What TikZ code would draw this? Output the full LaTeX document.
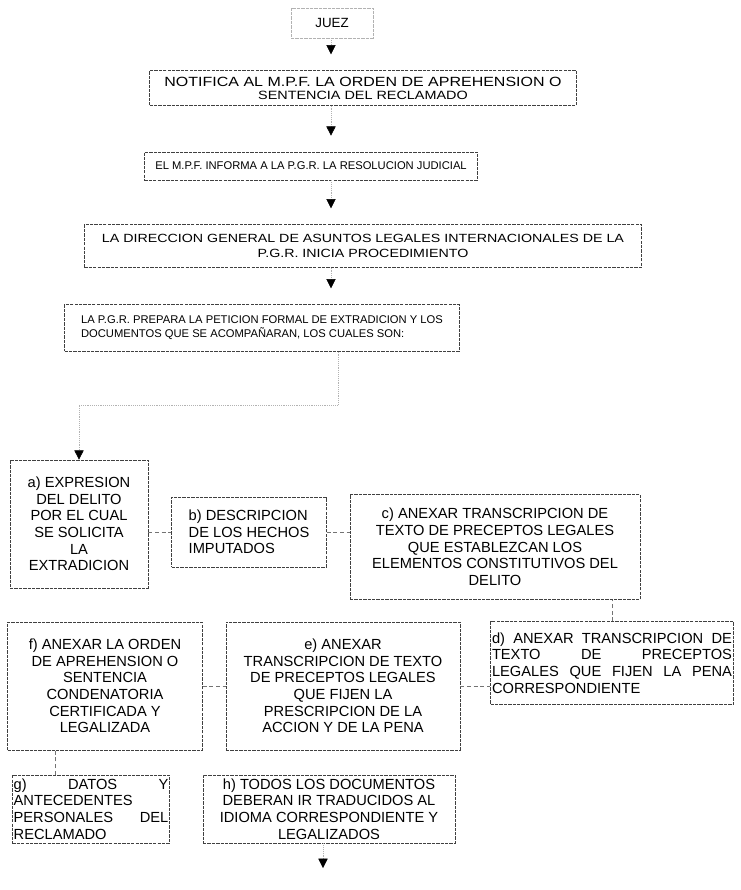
\documentclass[tikz,border=0pt]{standalone}
\usepackage{fontspec}
\setmainfont{Liberation Sans}
\newfontfamily\widesans[FakeStretch=1.2]{Liberation Sans}
\usetikzlibrary{arrows.meta}

\begin{document}
\begin{tikzpicture}[x=0.75pt, y=-0.75pt,
	box/.style={draw=black!75, line width=.5pt, dash pattern=on 2.5pt off .8pt, inner sep=1pt},
	low/.style={box, align=center, font=\fontsize{11}{12.5}\selectfont},
	flow/.style={draw=black!30, densely dotted, line width=.4pt, shorten >=12pt, -{Triangle[width=7pt,length=7pt,color=black]}},
	link/.style={draw=black!55, densely dashed, line width=.4pt}
	]
	\fill[white] (0,0) rectangle (741,890);
	\useasboundingbox (0,0) rectangle (741,890);
	
	\node [box, draw=black!30, minimum width=61.5pt, minimum height=22.5pt, font=\fontsize{10}{12}\selectfont] (juez) at (332,23) {JUEZ};
	\node [box, minimum width=320pt, minimum height=26pt, align=center, font=\widesans\fontsize{10}{9.75}\selectfont] (p1) at (363,88)
		{NOTIFICA AL M.P.F. LA ORDEN DE APREHENSION O\\{\fontsize{9}{9.75}\selectfont SENTENCIA DEL RECLAMADO}};
	\node [box, minimum width=250pt, minimum height=21pt, font=\fontsize{8.4}{10}\selectfont] (p2) at (311,166)
		{EL M.P.F. INFORMA A LA P.G.R. LA RESOLUCION JUDICIAL};
	\node [box, minimum width=418pt, minimum height=32pt, align=center, font=\widesans\fontsize{8.9}{11}\selectfont] (p3) at (363,246)
		{LA DIRECCION GENERAL DE ASUNTOS LEGALES INTERNACIONALES DE LA\\P.G.R. INICIA PROCEDIMIENTO};
	\node [box, minimum width=296pt, minimum height=35pt, align=left, font=\fontsize{8.4}{10.5}\selectfont] (p4) at (262,328)
		{LA P.G.R. PREPARA LA PETICION FORMAL DE EXTRADICION Y LOS\\DOCUMENTOS QUE SE ACOMPA\~NARAN, LOS CUALES SON:};
	
	\node [low, minimum width=103.5pt, minimum height=96pt] (a) at (79,524)
		{a) EXPRESION\\DEL DELITO\\POR EL CUAL\\SE SOLICITA\\LA\\EXTRADICION};
	\node [low, align=left, minimum width=116pt, minimum height=52.5pt] (b) at (249,532)
		{b) DESCRIPCION\\DE LOS HECHOS\\IMPUTADOS};
	\node [low, minimum width=217.5pt, minimum height=79pt] (c) at (495,547)
		{c) ANEXAR TRANSCRIPCION DE\\TEXTO DE PRECEPTOS LEGALES\\QUE ESTABLEZCAN LOS\\ELEMENTOS CONSTITUTIVOS DEL\\DELITO};
	\node [low, align=justify, text width=180pt, minimum height=62pt] (d) at (612,663)
		{d) ANEXAR TRANSCRIPCION DE\linebreak TEXTO DE PRECEPTOS\linebreak LEGALES QUE FIJEN LA PENA\linebreak CORRESPONDIENTE};
	\node [low, minimum width=175.5pt, minimum height=96pt] (e) at (343,686)
		{e) ANEXAR\\TRANSCRIPCION DE TEXTO\\DE PRECEPTOS LEGALES\\QUE FIJEN LA\\PRESCRIPCION DE LA\\ACCION Y DE LA PENA};
	\node [low, minimum width=146pt, minimum height=96pt] (f) at (105,686)
		{f) ANEXAR LA ORDEN\\DE APREHENSION O\\SENTENCIA\\CONDENATORIA\\CERTIFICADA Y\\LEGALIZADA};
	\node [low, align=justify, text width=116pt, minimum height=51pt] (g) at (91,809)
		{g) DATOS Y\linebreak ANTECEDENTES\linebreak PERSONALES DEL\linebreak RECLAMADO};
	\node [low, minimum width=189pt, minimum height=51pt] (h) at (329,809)
		{h) TODOS LOS DOCUMENTOS\\DEBERAN IR TRADUCIDOS AL\\IDIOMA CORRESPONDIENTE Y\\LEGALIZADOS};
	
	\coordinate (axis) at (331,0);
	\coordinate (split) at (338,405);
	\coordinate (end) at (323,868);
	
	\draw [flow] (juez.south -| axis) -- (p1.north -| axis);
	\draw [flow] (p1.south -| axis) -- (p2.north -| axis);
	\draw [flow] (p2.south -| axis) -- (p3.north -| axis);
	\draw [flow] (p3.south -| axis) -- (p4.north -| axis);
	\draw [flow, shorten >=0pt] (p4.south -| split) -- (split) -| (a.north);
	\draw [link] (a.east |- b.west) -- (b.west);
	\draw [link] (b.east) -- (b.east -| c.west);
	\draw [link] (d.north) -- (d.north |- c.south);
	\draw [link] (f.east) -- (f.east -| e.west);
	\draw [link] (e.east) -- (e.east -| d.west);
	\draw [link] ([xshift=-27pt]g.north) -- ([xshift=-27pt]g.north |- f.south);
	\draw [flow, shorten >=0pt] (h.south -| end) -- (end);
\end{tikzpicture}
\end{document}
